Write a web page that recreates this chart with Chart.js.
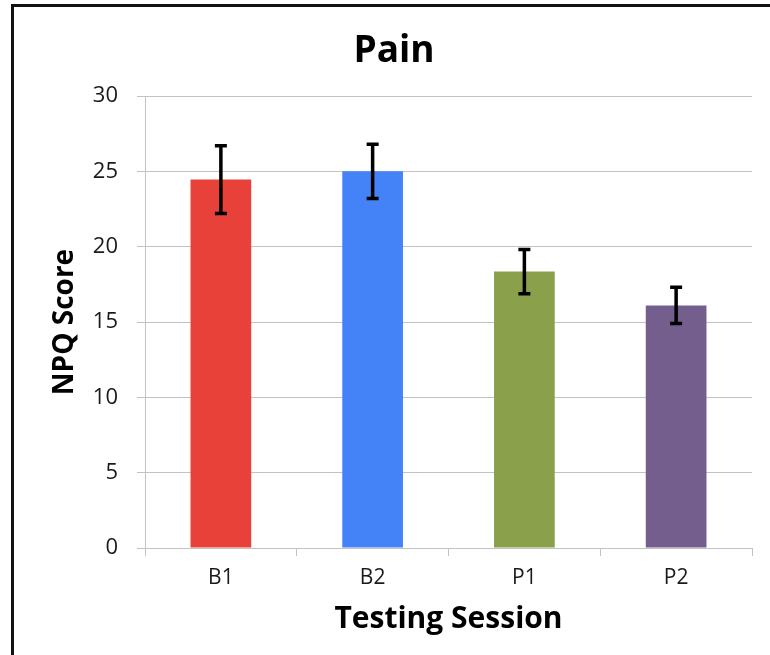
<!DOCTYPE html>
<html>
<head>
<meta charset="utf-8">
<script src="https://cdn.jsdelivr.net/npm/chart.js@4.4.1/dist/chart.umd.min.js"></script>
<style>
  body { margin: 0; background: #fff; }
  #wrap { position: relative; width: 770px; height: 655px; overflow: hidden; }
  #frame { position: absolute; left: 11px; top: 4px; width: 800px; height: 700px;
           border-left: 3px solid #111; border-top: 3px solid #111; pointer-events: none; }
</style>
</head>
<body>
<div id="wrap">
  <canvas id="painChart" width="770" height="655"></canvas>
  <div id="frame"></div>
</div>
<script>
// values
const sessions = ["B1", "B2", "P1", "P2"];
const npqScores = [24.45, 25.0, 18.35, 16.1];
const npqErrors = [2.25, 1.8, 1.47, 1.2];
const barColors = ["#e8413a", "#4483f7", "#8aa04b", "#745e8e"];
const yTicks = [0, 5, 10, 15, 20, 25, 30];

const gridGray = "#c2c2c2";

// draws the black whiskers, positions come from the bars and the y scale
const errorBarPlugin = {
  id: "errorBars",
  afterDatasetsDraw(chart) {
    const ctx = chart.ctx;
    const yScale = chart.scales.y;
    const meta = chart.getDatasetMeta(0);
    ctx.save();
    ctx.strokeStyle = "#000";
    ctx.lineWidth = 3.5;
    meta.data.forEach((bar, i) => {
      const top = yScale.getPixelForValue(npqScores[i] + npqErrors[i]);
      const bottom = yScale.getPixelForValue(npqScores[i] - npqErrors[i]);
      const half = 6;
      ctx.beginPath();
      ctx.moveTo(bar.x, top);
      ctx.lineTo(bar.x, bottom);
      ctx.moveTo(bar.x - half, top);
      ctx.lineTo(bar.x + half, top);
      ctx.moveTo(bar.x - half, bottom);
      ctx.lineTo(bar.x + half, bottom);
      ctx.stroke();
    });
    ctx.restore();
  }
};

const ctx = document.getElementById("painChart").getContext("2d");

new Chart(ctx, {
  type: "bar",
  data: {
    labels: sessions,
    datasets: [{
      data: npqScores,
      backgroundColor: barColors,
      borderWidth: 0,
      barPercentage: 0.4,
      categoryPercentage: 1.0
    }]
  },
  options: {
    responsive: false,
    animation: false,
    layout: { padding: { left: 36, right: 18, top: 0, bottom: 0 } },
    plugins: {
      legend: { display: false },
      tooltip: { enabled: false },
      title: {
        display: true,
        text: "Pain",
        color: "#000",
        font: { family: "Open Sans", size: 37, weight: "bold", lineHeight: 1.2 },
        padding: { top: 29, bottom: 22.6 }
      }
    },
    scales: {
      x: {
        afterFit: (scale) => { scale.height = 107; },
        grid: { drawOnChartArea: false, drawTicks: true, tickLength: 8, color: gridGray, offset: true },
        border: { display: true, color: gridGray, width: 1 },
        ticks: { color: "#1a1a1a", padding: 9, font: { family: "Open Sans", size: 21 } },
        title: {
          display: true,
          text: "Testing Session",
          color: "#000",
          font: { family: "Open Sans", size: 30, weight: "bold", lineHeight: 1.2 },
          padding: { top: 0, bottom: 18 }
        }
      },
      y: {
        min: 0,
        max: 30,
        afterFit: (scale) => { scale.width = 109; },
        afterBuildTicks: (scale) => { scale.ticks = yTicks.map(v => ({ value: v })); },
        grid: { color: gridGray, drawTicks: true, tickLength: 8 },
        border: { display: true, color: gridGray, width: 1 },
        ticks: { color: "#1a1a1a", padding: 19, font: { family: "Open Sans", size: 22 } },
        title: {
          display: true,
          text: "NPQ Score",
          color: "#000",
          font: { family: "Open Sans", size: 28, weight: "bold", lineHeight: 1.2 },
          padding: { top: 12, bottom: 0 }
        }
      }
    }
  },
  plugins: [errorBarPlugin]
});
</script>
</body>
</html>
